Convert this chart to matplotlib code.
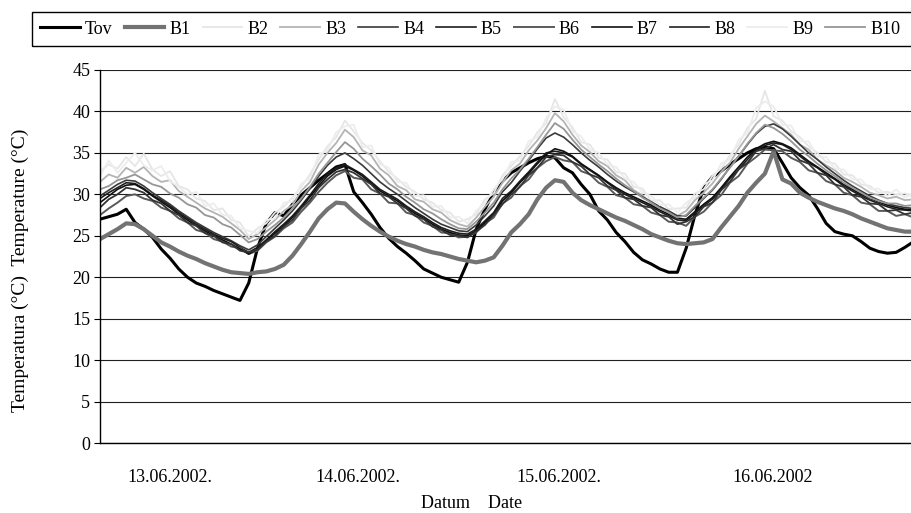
import matplotlib
matplotlib.use('Agg')
import matplotlib.pyplot as plt
import numpy as np
from matplotlib.patches import Rectangle

plt.rcParams['font.family'] = ['Liberation Serif', 'DejaVu Serif']

# hours from start of record, one reading per hour
hours = np.arange(94)

tov = [27.0, 27.3, 27.6, 28.2, 26.6, 25.8, 24.8, 23.4, 22.3, 21.0,
       20.0, 19.3, 18.9, 18.4, 18.0, 17.6, 17.2, 19.3, 23.5, 26.5,
       27.8, 27.4, 28.8, 29.9, 30.8, 31.7, 32.5, 33.3, 33.6, 30.3,
       29.0, 27.6, 26.0, 24.7, 23.7, 22.9, 22.0, 21.0, 20.5, 20.0,
       19.7, 19.4, 21.8, 25.8, 28.2, 30.3, 31.6, 32.6, 33.2, 33.8,
       34.3, 34.6, 34.4, 33.2, 32.6, 31.2, 30.0, 28.0, 26.9, 25.4,
       24.3, 23.0, 22.1, 21.6, 21.0, 20.6, 20.6, 23.5, 27.5, 30.8,
       32.1, 32.8, 33.6, 34.3, 35.0, 35.5, 35.7, 35.5, 33.8, 32.0,
       30.8, 29.9, 28.3, 26.5, 25.5, 25.2, 25.0, 24.3, 23.5, 23.1,
       22.9, 23.0, 23.6, 24.3]

b1 = [24.6, 25.2, 25.8, 26.5, 26.4, 25.8, 25.0, 24.2, 23.7, 23.1,
      22.6, 22.2, 21.7, 21.3, 20.9, 20.6, 20.5, 20.4, 20.6, 20.7,
      21.0, 21.5, 22.6, 24.0, 25.5, 27.1, 28.2, 29.0, 28.9, 27.9,
      27.0, 26.2, 25.5, 24.9, 24.4, 24.0, 23.7, 23.3, 23.0, 22.8,
      22.5, 22.2, 22.0, 21.8, 22.0, 22.4, 23.8, 25.4, 26.4, 27.6,
      29.4, 30.8, 31.7, 31.5, 30.2, 29.3, 28.7, 28.2, 27.7, 27.2,
      26.8, 26.3, 25.8, 25.2, 24.8, 24.4, 24.1, 24.0, 24.1, 24.2,
      24.6, 26.0, 27.3, 28.6, 30.2, 31.4, 32.5, 35.2, 31.8, 31.3,
      30.2, 29.6, 29.1, 28.7, 28.3, 28.0, 27.6, 27.1, 26.7, 26.3,
      25.9, 25.7, 25.5, 25.5]

b2 = [32.8, 33.6, 33.1, 34.5, 33.4, 34.9, 33.0, 32.2, 32.8, 31.0,
      30.6, 29.5, 29.2, 28.1, 28.3, 26.9, 26.6, 24.9, 25.9, 26.5,
      27.8, 28.5, 29.6, 30.9, 32.4, 34.2, 35.8, 36.9, 38.9, 37.6,
      36.2, 35.3, 34.0, 32.7, 31.9, 30.9, 30.3, 29.4, 29.0, 28.1,
      27.8, 26.7, 27.0, 27.6, 29.4, 30.1, 32.3, 33.4, 34.6, 35.8,
      37.5, 38.6, 41.5, 39.3, 38.1, 36.3, 36.0, 34.4, 34.2, 32.7,
      32.5, 30.9, 30.7, 29.2, 29.3, 28.2, 28.3, 28.4, 30.1, 30.6,
      32.2, 33.1, 34.7, 36.0, 38.0, 39.1, 42.5, 39.4, 38.9, 37.6,
      36.9, 35.8, 35.0, 33.9, 33.7, 32.4, 32.3, 31.2, 31.0, 30.2,
      30.3, 30.0, 30.1, 29.7]

b3 = [31.5, 32.4, 32.0, 33.2, 32.6, 33.3, 32.2, 31.5, 31.7, 30.4,
      29.7, 29.0, 28.3, 27.8, 27.3, 26.5, 25.7, 24.6, 25.2, 26.0,
      26.9, 28.0, 28.7, 30.4, 31.5, 33.6, 35.0, 36.2, 37.8, 36.9,
      35.3, 34.7, 33.1, 32.3, 31.0, 30.5, 29.4, 29.1, 28.2, 27.8,
      26.9, 26.4, 26.1, 27.2, 28.5, 29.7, 31.4, 32.9, 33.7, 35.3,
      36.5, 38.0, 39.8, 38.8, 37.2, 35.9, 35.1, 34.0, 33.4, 32.3,
      31.7, 30.5, 29.9, 28.9, 28.5, 27.9, 27.4, 28.0, 29.3, 30.2,
      31.3, 32.7, 33.8, 35.5, 37.0, 38.5, 39.5, 38.8, 38.0, 37.2,
      36.0, 35.4, 34.2, 33.5, 32.9, 32.0, 31.5, 30.9, 30.2, 29.9,
      29.5, 29.7, 29.3, 29.4]

b4 = [29.8, 30.5, 31.2, 31.7, 31.6, 31.0, 30.2, 29.5, 28.8, 28.0,
      27.3, 26.6, 26.0, 25.4, 24.9, 24.4, 23.8, 23.3, 23.9, 24.9,
      25.9, 26.9, 28.0, 29.3, 30.7, 32.2, 33.5, 34.5, 35.0, 34.3,
      33.5, 32.5, 31.5, 30.7, 30.0, 29.2, 28.4, 27.7, 27.0, 26.4,
      26.0, 25.6, 25.5, 26.3, 27.4, 28.6, 30.3, 31.4, 32.8, 34.1,
      35.5, 36.8, 37.4, 36.9, 36.0, 35.0, 34.1, 33.3, 32.4, 31.6,
      30.9, 30.3, 29.7, 29.1, 28.5, 28.0, 27.4, 27.4, 28.4, 29.5,
      30.5, 31.8, 33.3, 34.6, 36.0, 37.3, 38.2, 38.5, 37.9, 37.0,
      36.0, 35.0, 34.2, 33.3, 32.5, 31.7, 31.0, 30.4, 29.8, 29.3,
      28.9, 28.6, 28.4, 28.3]

b5 = [29.5, 30.2, 30.8, 31.4, 31.3, 30.7, 29.9, 29.3, 28.6, 27.8,
      27.1, 26.4, 25.8, 25.2, 24.7, 24.3, 23.6, 23.0, 23.6, 24.5,
      25.5, 26.4, 27.4, 28.6, 29.9, 31.3, 32.5, 33.2, 33.6, 33.0,
      32.4, 31.5, 30.6, 30.0, 29.4, 28.6, 27.9, 27.3, 26.6, 26.0,
      25.6, 25.3, 25.2, 25.8, 26.8, 27.8, 29.5, 30.4, 31.6, 32.7,
      33.9, 35.0, 35.2, 35.0, 34.5, 33.6, 32.9, 32.2, 31.4, 30.6,
      30.0, 29.5, 29.0, 28.5, 27.9, 27.4, 26.9, 26.8, 27.7, 28.6,
      29.4, 30.6, 31.9, 33.0, 34.2, 35.3, 35.9, 36.2, 36.0, 35.4,
      34.6, 33.8, 33.2, 32.4, 31.8, 31.0, 30.4, 29.8, 29.3, 28.9,
      28.5, 28.2, 28.1, 28.0]

b6 = [27.5, 28.3, 29.0, 29.8, 30.0, 29.5, 29.2, 28.4, 28.0, 27.1,
      26.6, 25.7, 25.4, 24.6, 24.3, 23.7, 23.5, 22.8, 23.2, 24.2,
      24.9, 25.9, 26.6, 27.9, 29.0, 30.3, 31.4, 32.3, 32.8, 32.0,
      31.8, 30.6, 30.1, 29.0, 28.9, 27.8, 27.5, 26.6, 26.2, 25.4,
      25.3, 24.8, 24.9, 25.4, 26.5, 27.2, 28.9, 29.6, 31.0, 31.8,
      33.2, 34.0, 34.5, 34.1, 33.9, 32.8, 32.4, 31.4, 30.9, 29.9,
      29.6, 28.8, 28.6, 27.8, 27.5, 26.7, 26.6, 26.2, 27.3, 27.9,
      29.0, 29.9, 31.4, 32.2, 33.7, 34.5, 35.4, 35.3, 35.2, 34.4,
      33.9, 32.9, 32.6, 31.6, 31.2, 30.2, 29.9, 29.0, 28.8, 28.0,
      28.0, 27.4, 27.6, 27.2]

b7 = [29.0, 29.8, 30.6, 31.1, 31.2, 30.6, 29.8, 29.1, 28.4, 27.6,
      26.9, 26.2, 25.6, 25.0, 24.5, 24.0, 23.4, 22.8, 23.4, 24.4,
      25.3, 26.2, 27.2, 28.4, 29.7, 31.0, 32.2, 33.0, 33.4, 32.9,
      32.2, 31.3, 30.4, 29.8, 29.2, 28.4, 27.7, 27.1, 26.4, 25.8,
      25.4, 25.1, 25.0, 25.6, 26.6, 27.6, 29.2, 30.2, 31.4, 32.5,
      33.7, 34.8, 35.5, 35.2, 34.6, 33.7, 33.0, 32.3, 31.5, 30.8,
      30.2, 29.7, 29.2, 28.7, 28.1, 27.6, 27.1, 27.0, 27.9, 28.8,
      29.6, 30.8, 32.1, 33.3, 34.5, 35.5, 36.1, 36.4, 36.1, 35.6,
      34.8, 34.0, 33.3, 32.6, 31.9, 31.2, 30.6, 30.0, 29.5, 29.1,
      28.7, 28.4, 28.2, 28.1]

b8 = [28.4, 29.4, 30.0, 30.8, 30.6, 30.2, 29.3, 28.9, 28.0, 27.5,
      26.6, 26.2, 25.3, 25.0, 24.2, 24.0, 23.2, 23.0, 23.3, 24.3,
      25.0, 26.1, 26.9, 28.3, 29.3, 30.8, 31.8, 32.7, 33.0, 32.6,
      31.9, 31.2, 30.1, 29.7, 28.9, 28.3, 27.4, 27.0, 26.1, 25.7,
      25.1, 25.0, 24.8, 25.5, 26.3, 27.5, 28.8, 30.0, 30.9, 32.3,
      33.2, 34.5, 34.8, 34.7, 33.9, 33.4, 32.4, 32.0, 31.0, 30.5,
      29.6, 29.4, 28.6, 28.4, 27.5, 27.3, 26.4, 26.7, 27.3, 28.5,
      29.0, 30.5, 31.5, 33.0, 33.8, 35.2, 35.5, 36.0, 35.4, 35.2,
      34.1, 33.7, 32.6, 32.3, 31.2, 30.9, 29.9, 29.7, 28.9, 28.8,
      28.0, 28.1, 27.6, 27.8]

b9 = [32.2, 34.1, 32.6, 33.8, 35.0, 33.5, 32.9, 33.4, 31.6, 30.9,
      30.0, 30.3, 28.6, 28.9, 27.5, 27.4, 25.9, 25.6, 25.3, 26.9,
      27.1, 29.0, 29.1, 31.3, 31.9, 34.8, 35.3, 37.5, 38.2, 38.4,
      35.7, 35.9, 33.6, 33.2, 31.5, 31.4, 29.8, 29.9, 28.5, 28.6,
      27.2, 27.3, 26.5, 28.0, 28.9, 30.6, 31.8, 33.9, 34.1, 36.4,
      36.9, 39.2, 40.6, 40.2, 37.6, 37.0, 35.4, 35.0, 33.6, 33.3,
      31.9, 31.5, 30.2, 29.8, 28.7, 28.8, 27.8, 29.0, 29.6, 31.2,
      31.7, 33.7, 34.2, 36.6, 37.4, 40.4, 41.2, 40.6, 38.4, 38.3,
      36.4, 36.4, 34.5, 34.5, 33.1, 33.0, 31.8, 31.8, 30.6, 30.7,
      29.8, 30.6, 29.6, 30.2]

b10 = [30.6, 31.0, 31.7, 32.0, 32.4, 31.8, 31.2, 30.9, 30.1, 29.6,
       28.8, 28.4, 27.5, 27.2, 26.4, 26.0, 25.1, 24.2, 24.6, 25.5,
       26.3, 27.2, 28.3, 29.5, 30.9, 32.5, 33.8, 35.1, 36.3, 35.5,
       34.3, 33.4, 32.4, 31.3, 30.6, 29.7, 29.0, 28.2, 27.7, 27.0,
       26.4, 25.9, 25.8, 26.7, 27.8, 29.0, 30.6, 31.9, 33.0, 34.3,
       35.7, 37.2, 38.6, 37.9, 36.6, 35.4, 34.5, 33.6, 32.8, 31.9,
       31.1, 30.4, 29.6, 29.0, 28.3, 27.8, 27.2, 27.5, 28.6, 29.6,
       30.6, 31.9, 33.2, 34.6, 36.1, 37.4, 38.4, 38.0, 37.3, 36.4,
       35.4, 34.6, 33.7, 32.9, 32.2, 31.4, 30.8, 30.2, 29.6, 29.2,
       28.9, 28.9, 28.6, 28.7]

series = [('Tov', tov), ('B1', b1), ('B2', b2), ('B3', b3), ('B4', b4),
          ('B5', b5), ('B6', b6), ('B7', b7), ('B8', b8), ('B9', b9),
          ('B10', b10)]
colors = ['#000000', '#737373', '#e6e6e6', '#b4b4b4', '#3a3a3a', '#1e1e1e',
          '#5a5a5a', '#101010', '#333333', '#ededed', '#969696']
widths = [2.2, 3.0, 1.3, 1.3, 1.2, 1.2, 1.4, 1.2, 1.3, 1.3, 1.3]

date_pos = [8, 29.5, 52.5, 76.9]
date_labels = ['13.06.2002.', '14.06.2002.', '15.06.2002.', '16.06.2002']

fig = plt.figure(figsize=(9.11, 5.13), dpi=100)
ax = fig.add_axes([100/911, 1-443/513, 1-100/911, (443-70)/513])

for (name, vals), c, w in zip(series, colors, widths):
    ax.plot(hours, vals, color=c, lw=w, label=name)

ax.set_xlim(0, 92.7)
ax.set_ylim(0, 45)
ax.set_yticks(range(0, 46, 5))
ax.yaxis.grid(True, color='#202020', lw=0.8)
ax.set_axisbelow(True)
ax.set_xticks(date_pos)
ax.set_xticklabels(date_labels)
ax.tick_params(axis='x', length=0, pad=19, labelsize=13)
ax.tick_params(axis='y', length=4, width=0.8, direction='out', labelsize=13, pad=3)
for s in ['top', 'right']:
    ax.spines[s].set_visible(False)
ax.spines['left'].set_linewidth(1.0)
ax.spines['bottom'].set_linewidth(1.0)

fig.text(20/911, 1-270/513, 'Temperatura (°C)  Temperature (°C)', rotation=90,
         ha='center', va='center', fontsize=14)
fig.text(472/911, 1-503/513, 'Datum    Date', ha='center', va='center', fontsize=13)

leg = fig.legend(loc='center left', bbox_to_anchor=(40/911, 1-29/513), ncol=11,
                 frameon=False, fontsize=13, handlelength=2.2, handletextpad=0.28,
                 columnspacing=0.67, borderaxespad=0, borderpad=0)
fig.patches.append(Rectangle((32/911, 1-46/513), 1.0, 34/513, transform=fig.transFigure,
                             fill=False, ec='black', lw=1.0))

fig.savefig('out.png', dpi=100)
